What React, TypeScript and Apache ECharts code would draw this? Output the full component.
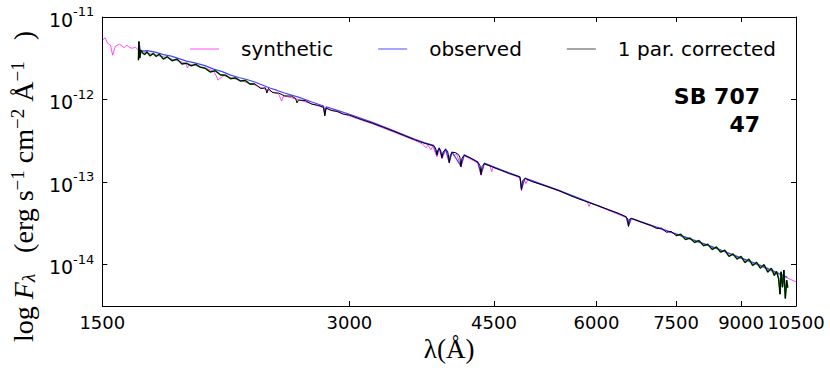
import React, { useEffect, useRef } from "react";
import * as echarts from "echarts";

// Tick values
const xTickValues = [1500, 3000, 4500, 6000, 7500, 9000, 10500];
const yTickValues = [1e-14, 1e-13, 1e-12, 1e-11];
const fluxUnit = 1e-13; // fluxes below are in units of 1e-13 erg s^-1 cm^-2 A^-1

// Synthetic spectrum
const synWave = [1501, 1512, 1522, 1535, 1544, 1556, 1574, 1595, 1607, 1620, 1633, 1646, 1660, 1700, 1800, 1895, 1905, 1915, 2000, 2050, 2065, 2075, 2090, 2110, 2200, 2300, 2400, 2460, 2480, 2495, 2600, 2700, 2790, 2800, 2815, 3000, 3200, 3400, 3600, 3680, 3720, 3740, 3770, 3790, 3835, 3860, 3889, 3930, 3970, 4000, 4026, 4050, 4102, 4140, 4300, 4340, 4380, 4450, 4471, 4490, 4700, 4840, 4861, 4900, 4922, 4950, 5400, 5850, 5876, 5900, 6000, 6520, 6563, 6600, 7000, 7500, 8000, 8500, 9000, 9500, 10000, 10500];
const synFlux = [52.3, 56.1, 48.2, 45.6, 34.5, 44.3, 46.9, 42.5, 45.6, 42.5, 41.9, 43.1, 39.7, 36.5, 32.2, 27.6, 24.1, 26.9, 24.1, 22.1, 19.3, 17.2, 18.2, 19.5, 17.2, 15.0, 12.7, 11.7, 9.62, 11.1, 10.0, 8.85, 7.99, 7.09, 7.81, 6.34, 5.08, 4.03, 3.21, 2.91, 2.61, 2.80, 2.47, 2.72, 2.03, 2.54, 1.92, 2.43, 1.70, 2.27, 2.09, 2.24, 1.52, 2.09, 1.70, 1.21, 1.65, 1.58, 1.34, 1.52, 1.26, 1.13, 0.790, 1.10, 0.959, 1.07, 0.779, 0.574, 0.507, 0.558, 0.521, 0.373, 0.307, 0.363, 0.294, 0.233, 0.186, 0.150, 0.119, 0.0962, 0.0766, 0.0622];

// Observed spectrum
const obsWave = [1662, 1670, 1700, 1740, 1780, 1820, 1860, 1900, 1950, 2000, 2050, 2100, 2150, 2200, 2250, 2300, 2350, 2400, 2450, 2500, 2600, 2700, 2790, 2800, 2810, 2900, 3000, 3200, 3400, 3600, 3700, 3800, 3835, 3860, 3889, 3930, 3970, 4000, 4102, 4140, 4300, 4340, 4380, 4600, 4840, 4861, 4910, 5400, 6000, 6520, 6563, 6620, 7000, 7500, 8000, 8500, 9000, 9500, 10000, 10250];
const obsFlux = [49.5, 38.6, 39.1, 37.5, 35.0, 33.6, 31.3, 29.2, 27.6, 25.8, 23.4, 21.8, 19.8, 18.5, 17.5, 16.3, 15.0, 13.8, 12.9, 12.0, 10.7, 9.35, 8.37, 6.52, 8.19, 7.39, 6.65, 5.30, 4.18, 3.33, 3.01, 2.79, 2.15, 2.61, 2.00, 2.54, 1.74, 2.33, 1.56, 2.15, 1.77, 1.25, 1.70, 1.40, 1.16, 0.823, 1.12, 0.796, 0.529, 0.381, 0.294, 0.365, 0.299, 0.236, 0.189, 0.151, 0.121, 0.0984, 0.0788, 0.0705];

// 1 parameter corrected spectrum
const corWave = [1660, 1662, 1666, 1672, 1680, 1690, 1700, 1715, 1730, 1745, 1760, 1780, 1800, 1825, 1850, 1875, 1900, 1925, 1950, 1975, 2000, 2030, 2060, 2090, 2120, 2150, 2180, 2210, 2240, 2270, 2300, 2340, 2370, 2380, 2390, 2420, 2460, 2500, 2550, 2580, 2590, 2600, 2650, 2700, 2750, 2790, 2800, 2810, 2850, 2900, 2950, 3000, 3100, 3200, 3300, 3400, 3500, 3600, 3650, 3700, 3750, 3800, 3815, 3826, 3835, 3844, 3860, 3876, 3889, 3902, 3930, 3950, 3960, 3970, 3980, 4000, 4040, 4075, 4090, 4102, 4114, 4140, 4200, 4270, 4310, 4328, 4340, 4352, 4380, 4500, 4600, 4700, 4800, 4840, 4848, 4861, 4874, 4910, 5000, 5200, 5400, 5600, 5800, 6000, 6200, 6400, 6520, 6550, 6563, 6576, 6620, 6800, 7000, 7100, 7200, 7300, 7400, 7500, 7600, 7700, 7800, 7900, 8000, 8100, 8200, 8300, 8400, 8500, 8600, 8700, 8800, 8900, 9000, 9100, 9200, 9300, 9400, 9500, 9600, 9700, 9800, 9880, 9940, 10000, 10040, 10070, 10110, 10150, 10190, 10230, 10260];
const corFlux = [30.0, 50.5, 31.8, 39.7, 36.5, 35.1, 37.9, 33.8, 36.2, 33.3, 35.5, 30.9, 33.0, 29.5, 30.9, 27.0, 27.5, 25.6, 26.7, 24.6, 24.1, 21.6, 22.3, 19.9, 19.7, 17.9, 18.3, 16.8, 17.1, 15.4, 15.5, 13.6, 13.9, 12.0, 13.6, 12.1, 12.0, 11.1, 11.0, 10.3, 9.10, 9.86, 9.73, 8.80, 8.49, 8.07, 6.34, 7.92, 7.37, 7.19, 6.65, 6.48, 5.75, 5.18, 4.61, 4.11, 3.66, 3.27, 3.11, 2.96, 2.85, 2.75, 2.64, 2.47, 2.12, 2.43, 2.57, 2.40, 1.97, 2.33, 2.50, 2.37, 2.15, 1.72, 2.09, 2.30, 2.28, 2.15, 2.00, 1.54, 1.95, 2.12, 1.99, 1.82, 1.70, 1.58, 1.23, 1.54, 1.67, 1.50, 1.38, 1.27, 1.19, 1.15, 1.07, 0.812, 1.03, 1.11, 1.02, 0.900, 0.790, 0.674, 0.592, 0.525, 0.466, 0.415, 0.379, 0.358, 0.290, 0.353, 0.363, 0.328, 0.297, 0.275, 0.277, 0.247, 0.253, 0.225, 0.234, 0.202, 0.210, 0.186, 0.196, 0.170, 0.177, 0.153, 0.164, 0.142, 0.150, 0.126, 0.135, 0.117, 0.126, 0.106, 0.117, 0.0978, 0.107, 0.0910, 0.100, 0.0814, 0.0908, 0.0741, 0.0828, 0.0680, 0.0440, 0.0821, 0.0534, 0.0861, 0.0390, 0.0648, 0.0527];

const legendNames = ["synthetic", "observed", "1 par. corrected"];
const annotation = ["SB 707", "47"];

const toPairs = (w: number[], f: number[]) => w.map((l, i) => [l, f[i] * fluxUnit]);

export default function App() {
  const ref = useRef<HTMLDivElement>(null);
  useEffect(() => {
    if (!ref.current) return;
    const chart = echarts.init(ref.current, undefined, { renderer: "svg" });
    const cor = toPairs(corWave, corFlux);
    const greenUV = cor.filter((p) => p[0] <= 2300);
    const greenRed = cor.filter((p) => p[0] >= 7500);
    const tickFont = "DejaVu Sans";
    const serif = "Liberation Serif";
    const xMin = 1500, xMax = 10500, yMin = Math.pow(10, -14.5), yMax = 1e-11;
    const xAxisBase = {
      type: "log", logBase: 10, min: xMin, max: xMax,
      splitLine: { show: false },
      axisLine: { show: true, lineStyle: { color: "#000", width: 1 } },
      axisTick: { show: true, inside: true, length: 5, customValues: xTickValues, lineStyle: { color: "#000", width: 1 } },
      minorTick: { show: false },
    };
    const yAxisBase = {
      type: "log", logBase: 10, min: yMin, max: yMax,
      splitLine: { show: false },
      axisLine: { show: true, lineStyle: { color: "#000", width: 1 } },
      axisTick: { show: true, inside: true, length: 5, customValues: yTickValues, lineStyle: { color: "#000", width: 1 } },
      minorTick: { show: false },
    };
    chart.setOption({
      animation: false,
      backgroundColor: "#fff",
      grid: { left: 102, right: 34, top: 17, bottom: 68, containLabel: false },
      legend: {
        data: [
          { name: legendNames[0], itemStyle: { color: "#ff88ff" } },
          { name: legendNames[1], itemStyle: { color: "#8888ff" } },
          { name: legendNames[2], itemStyle: { color: "#888888" } },
        ],
        left: 185, top: 34, icon: "rect", itemWidth: 29, itemHeight: 1.5, itemGap: 45,
        textStyle: { fontFamily: tickFont, fontSize: 20, color: "#000", padding: [0, 0, 0, 17] },
      },
      xAxis: [
        {
          ...xAxisBase, position: "bottom",
          axisLabel: { show: true, customValues: xTickValues, margin: 7, fontFamily: tickFont, fontSize: 18, color: "#000", formatter: (v: number) => String(Math.round(v)) },
          name: "λ(Å)", nameLocation: "middle", nameGap: 27,
          nameTextStyle: { fontFamily: serif, fontSize: 27, color: "#000" },
        },
        { ...xAxisBase, position: "top", axisLabel: { show: false } },
      ],
      yAxis: [
        {
          ...yAxisBase, position: "left",
          axisLabel: {
            show: true, customValues: yTickValues, margin: 8,
            formatter: (v: number) => `{b|10}{s|${Math.round(Math.log10(v))}}`,
            rich: {
              b: { fontFamily: tickFont, fontSize: 19, lineHeight: 24, verticalAlign: "bottom", color: "#000" },
              s: { fontFamily: tickFont, fontSize: 13, lineHeight: 13, verticalAlign: "top", color: "#000" },
            },
          },
          name: "{r|log }{i|F}{sub|λ}{r|   (erg s}{sup|−1}{r| cm}{sup|−2}{r| Å}{sup|−1}{r|   )}",
          nameLocation: "middle", nameRotate: 90, nameGap: 64,
          nameTextStyle: {
            padding: [0, 50, 0, 0],
            rich: {
              r: { fontFamily: serif, fontSize: 28, lineHeight: 30, verticalAlign: "middle", color: "#000" },
              i: { fontFamily: serif, fontStyle: "italic", fontSize: 28, lineHeight: 30, verticalAlign: "middle", color: "#000" },
              sub: { fontFamily: serif, fontStyle: "italic", fontSize: 19, lineHeight: 14, verticalAlign: "bottom", color: "#000" },
              sup: { fontFamily: serif, fontSize: 19, lineHeight: 20, verticalAlign: "top", color: "#000" },
            },
          },
        },
        { ...yAxisBase, position: "right", axisLabel: { show: false } },
      ],
      graphic: [
        {
          type: "text", x: 760, y: 82, z: 10,
          style: { text: annotation.join("\n"), align: "right", verticalAlign: "top", font: "bold 22px 'DejaVu Sans'", lineHeight: 28, fill: "#000" },
        },
      ],
      series: [
        { name: legendNames[0], type: "line", data: toPairs(synWave, synFlux), showSymbol: false, symbol: "none", lineStyle: { color: "#ff00ff", width: 1, opacity: 0.7 }, itemStyle: { color: "#ff00ff" }, z: 2 },
        { name: legendNames[1], type: "line", data: toPairs(obsWave, obsFlux), showSymbol: false, symbol: "none", lineStyle: { color: "#2222ff", width: 1.2, opacity: 0.85 }, itemStyle: { color: "#2222ff" }, z: 3 },
        { name: "g1", type: "line", data: greenUV, showSymbol: false, symbol: "none", lineStyle: { color: "#0a8a0a", width: 1.6 }, z: 4 },
        { name: "g2", type: "line", data: greenRed, showSymbol: false, symbol: "none", lineStyle: { color: "#0a8a0a", width: 1.6 }, z: 4 },
        { name: legendNames[2], type: "line", data: cor, showSymbol: false, symbol: "none", lineStyle: { color: "#000", width: 1 }, itemStyle: { color: "#000" }, z: 5 },
      ],
    });
    return () => chart.dispose();
  }, []);
  return <div ref={ref} style={{ position: "fixed", left: 0, top: 0, width: 830, height: 374, background: "#fff" }} />;
}
